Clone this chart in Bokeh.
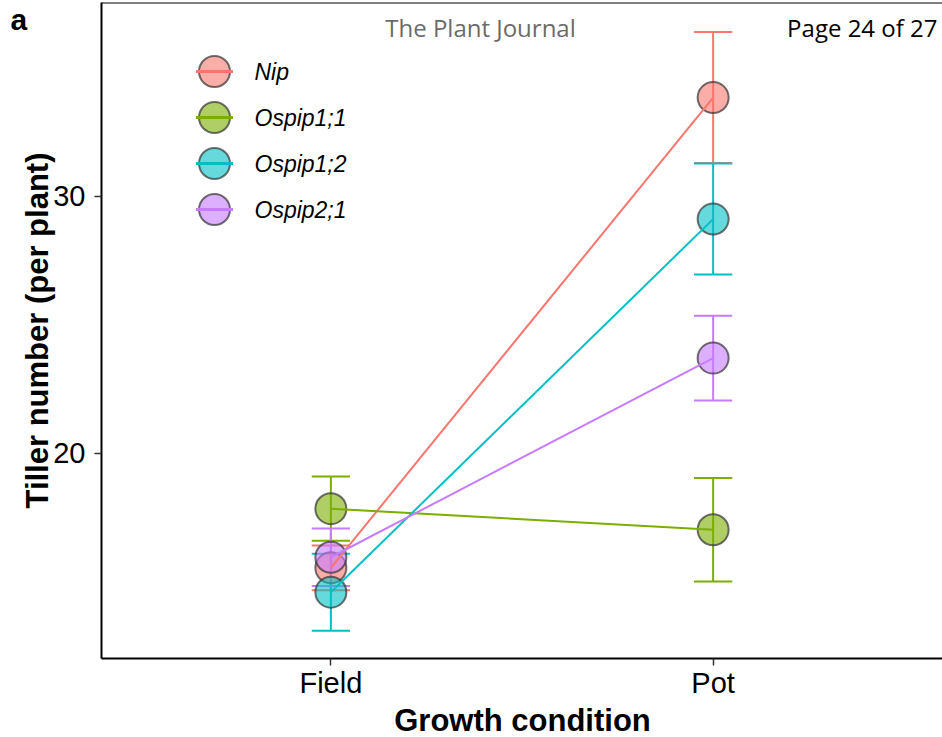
from bokeh.plotting import figure
from bokeh.models import Range1d, FixedTicker, Label, Span
from bokeh.embed import file_html
from bokeh.resources import INLINE

# Tiller number per plant, mean and standard error per growth condition
conditions = ["Field", "Pot"]
genotypes = ["Nip", "Ospip1;1", "Ospip1;2", "Ospip2;1"]
colors = ["#F8766D", "#7CAE00", "#00BFC4", "#C77CFF"]

nip_mean = [15.55, 33.85]
nip_se = [0.87, 2.55]
ospip11_mean = [17.85, 17.03]
ospip11_se = [1.25, 2.01]
ospip12_mean = [14.60, 29.12]
ospip12_se = [1.50, 2.16]
ospip21_mean = [15.96, 23.71]
ospip21_se = [1.12, 1.65]

y_ticks = [20, 30]

series = [
    (genotypes[0], nip_mean, nip_se, colors[0]),
    (genotypes[1], ospip11_mean, ospip11_se, colors[1]),
    (genotypes[2], ospip12_mean, ospip12_se, colors[2]),
    (genotypes[3], ospip21_mean, ospip21_se, colors[3]),
]

W, H = 942, 737
LEFT, TOP, BOTTOM = 101, 2, 79
X0, X1 = 0.4, 2.6
Y0, Y1 = 12.02, 37.55

p = figure(width=W, height=H, output_backend="svg", toolbar_location=None,
           x_range=Range1d(X0, X1), y_range=Range1d(Y0, Y1),
           min_border_left=LEFT, min_border_right=0,
           min_border_top=TOP, min_border_bottom=BOTTOM)
p.background_fill_color = "white"
p.border_fill_color = "white"
p.outline_line_color = None
p.grid.visible = False

fw = W - LEFT
fh = H - TOP - BOTTOM


def px_x(px):
    return X0 + (px - LEFT) * (X1 - X0) / fw


def px_y(py):
    return Y1 - (py - TOP) * (Y1 - Y0) / fh


xpos = [i + 1 for i in range(len(conditions))]
cap = 0.05

# error bars
for name, mean, se, col in series:
    lo = [m - s for m, s in zip(mean, se)]
    hi = [m + s for m, s in zip(mean, se)]
    p.segment(x0=xpos, y0=lo, x1=xpos, y1=hi, line_color=col, line_width=2)
    p.segment(x0=[x - cap for x in xpos], y0=hi, x1=[x + cap for x in xpos], y1=hi,
              line_color=col, line_width=2)
    p.segment(x0=[x - cap for x in xpos], y0=lo, x1=[x + cap for x in xpos], y1=lo,
              line_color=col, line_width=2)

# mean points
for name, mean, se, col in series:
    p.scatter(xpos, mean, size=31, fill_color=col, fill_alpha=0.6,
              line_color="#333333", line_alpha=0.7, line_width=2)

# connecting lines
for name, mean, se, col in series:
    p.line(xpos, mean, line_color=col, line_width=2)

# legend drawn as key glyphs and text
key_x = px_x(214)
key_half = 18.5 * (X1 - X0) / fw
for i, (name, mean, se, col) in enumerate(series):
    ky = px_y(71 + 46 * i)
    p.scatter([key_x], [ky], size=31, fill_color=col, fill_alpha=0.6,
              line_color="#333333", line_alpha=0.7, line_width=2)
    p.segment(x0=[key_x - key_half], y0=[ky], x1=[key_x + key_half], y1=[ky],
              line_color=col, line_width=3)
    p.add_layout(Label(x=px_x(254), y=ky, text=name, text_font="Liberation Sans",
                       text_font_style="italic", text_font_size="23px",
                       text_color="black", text_baseline="middle"))

# top border of the panel
p.add_layout(Span(location=Y1, dimension="width", line_color="black", line_width=2))

for ax in (p.xaxis[0], p.yaxis[0]):
    ax.axis_line_color = "black"
    ax.axis_line_width = 2
    ax.major_tick_line_color = "#333333"
    ax.major_tick_line_width = 1.5
    ax.major_tick_in = 0
    ax.major_tick_out = 7
    ax.minor_tick_line_color = None
    ax.major_label_text_font = "Liberation Sans"
    ax.major_label_text_font_size = "29px"
    ax.major_label_text_color = "black"
    ax.axis_label_text_font = "Liberation Sans"
    ax.axis_label_text_font_size = "31px"
    ax.axis_label_text_font_style = "bold"
    ax.axis_label_text_color = "black"

p.xaxis.ticker = FixedTicker(ticks=xpos)
p.xaxis.major_label_overrides = {x: c for x, c in zip(xpos, conditions)}
p.xaxis.major_label_standoff = 1

p.yaxis.ticker = FixedTicker(ticks=y_ticks)
p.yaxis.axis_label = "Tiller number (per plant)"
p.yaxis.major_label_standoff = 9
p.yaxis.axis_label_standoff = -5

# x axis title, placed in canvas pixels in the lower panel
p.add_layout(Label(x=522, y=720, x_units="canvas", y_units="canvas",
                   text="Growth condition",
                   text_font="Liberation Sans", text_font_style="bold",
                   text_font_size="31px", text_color="black",
                   text_align="center", text_baseline="middle"), "below")

# panel letter in the top-left corner, in the left panel
p.add_layout(Label(x=10, y=19, x_units="canvas", y_units="canvas", text="a",
                   text_font="Liberation Sans", text_font_style="bold",
                   text_font_size="30px", text_color="black",
                   text_baseline="middle"), "left")

# page header texts
p.add_layout(Label(x=px_x(480), y=px_y(27), text="The Plant Journal",
                   text_font="Open Sans", text_font_size="24px",
                   text_color="#6b6b6b", text_align="center", text_baseline="middle"))
p.add_layout(Label(x=px_x(937), y=px_y(27), text="Page 24 of 27",
                   text_font="Open Sans", text_font_size="24px",
                   text_color="black", text_align="right", text_baseline="middle"))

open("out.html", "w").write(file_html(p, INLINE))
